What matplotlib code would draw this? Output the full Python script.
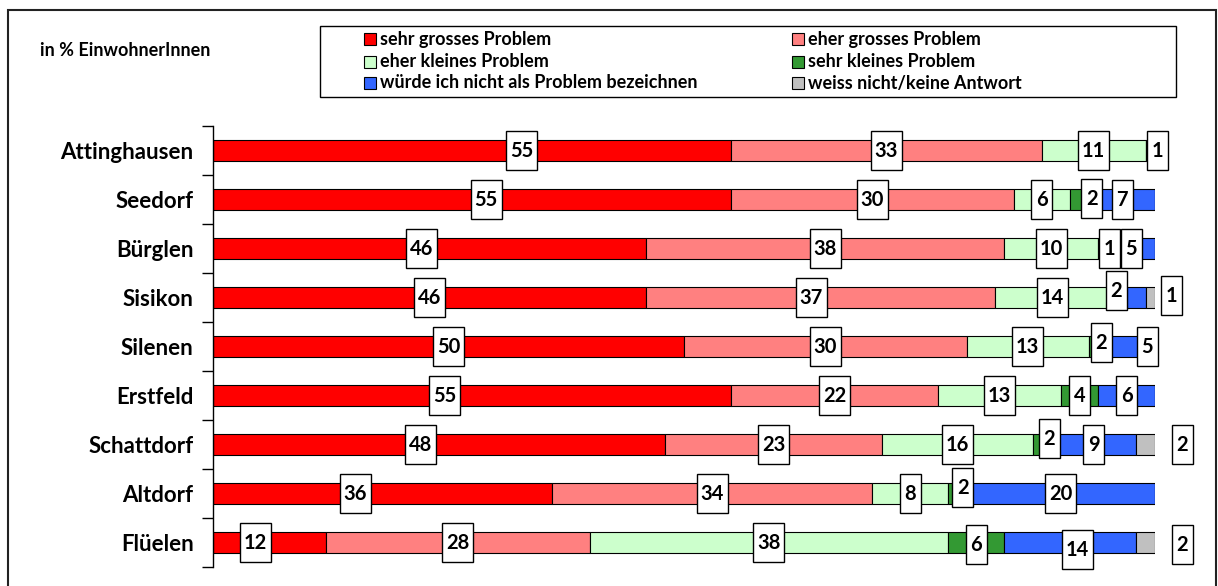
import numpy as np
import matplotlib.pyplot as plt
from matplotlib.patches import Rectangle

plt.rcParams['font.family'] = ['Lato', 'DejaVu Sans']

# Daten (in % EinwohnerInnen)
gemeinden = ["Attinghausen", "Seedorf", "Bürglen", "Sisikon", "Silenen",
             "Erstfeld", "Schattdorf", "Altdorf", "Flüelen"]
kategorien = ["sehr grosses Problem", "eher grosses Problem",
              "eher kleines Problem", "sehr kleines Problem",
              "würde ich nicht als Problem bezeichnen", "weiss nicht/keine Antwort"]

sehr_gross = [55, 55, 46, 46, 50, 55, 48, 36, 12]
eher_gross = [33, 30, 38, 37, 30, 22, 23, 34, 28]
eher_klein = [11, 6, 10, 14, 13, 13, 16, 8, 38]
sehr_klein = [0, 2, 1, 0, 2, 4, 2, 2, 6]
kein_problem = [1, 7, 5, 2, 5, 6, 9, 20, 14]
weiss_nicht = [0, 0, 0, 1, 0, 0, 2, 0, 2]

farben = ["#FF0000", "#FF8080", "#CCFFCC", "#339933", "#3366FF", "#C0C0C0"]

# manuelle Verschiebung der Beschriftungen: (zeile, serie) -> (dx in %, dy in px)
nudge = {
    (0, 0): (5.3, 0), (0, 4): (0.8, 0),
    (1, 0): (1.5, 0), (1, 3): (1.3, -1),
    (2, 0): (-0.9, 0), (2, 3): (0.7, 0),
    (3, 1): (-1.0, 0), (3, 2): (-0.9, 0), (3, 4): (-2.1, -7), (3, 5): (2.2, -2.5),
    (4, 3): (0.3, -4), (4, 4): (1.7, 0),
    (5, 0): (-2.9, 0),
    (6, 0): (-2.0, 0), (6, 3): (0.8, -6), (6, 5): (3.9, 0),
    (7, 0): (-2.9, 0), (7, 3): (0.6, -6),
    (8, 0): (-1.5, 0), (8, 3): (0.0, 1.5), (8, 4): (0.8, 6.7), (8, 5): (3.9, 2),
}

W, H = 1218, 586
fig = plt.figure(figsize=(W / 100, H / 100), dpi=100)

def fx(px):
    return px / W

def fy(py):
    return 1 - py / H

ax = fig.add_axes([fx(213), fy(567), 942 / W, 441 / H])

serien = [sehr_gross, eher_gross, eher_klein, sehr_klein, kein_problem, weiss_nicht]
y = np.arange(len(gemeinden))
left = np.zeros(len(gemeinden))
px_x = 942 / 100   # px pro %
px_y = 441 / 9     # px pro zeile

for j, (werte, farbe) in enumerate(zip(serien, farben)):
    werte = np.array(werte, dtype=float)
    ax.barh(y, werte, left=left, height=0.41, color=farbe,
            edgecolor="black", linewidth=0.8, zorder=2)
    for i, v in enumerate(werte):
        if v <= 0:
            continue
        dx, dy = nudge.get((i, j), (0, 0))
        xc = left[i] + v / 2 + dx
        yc = y[i] + dy / px_y
        txt = f"{int(v)}"
        bw = (21 if len(txt) == 1 else 31) / px_x
        bh = 39 / px_y
        ax.add_patch(Rectangle((xc - bw / 2, yc - bh / 2), bw, bh,
                               facecolor="white", edgecolor="black",
                               linewidth=1, zorder=3, clip_on=False))
        ax.text(xc, yc + 0.02, txt, ha="center", va="center", fontsize=14.5,
                fontweight="bold", zorder=4, clip_on=False)
    left += werte

ax.set_xlim(0, 100)
ax.set_ylim(len(gemeinden) - 0.5, -0.5)
ax.xaxis.set_visible(False)
for s in ["top", "right", "bottom"]:
    ax.spines[s].set_visible(False)
ax.spines["left"].set_linewidth(1)

ax.set_yticks(y)
ax.set_yticklabels(gemeinden, fontsize=16, fontweight="bold")
ax.tick_params(axis="y", which="major", length=0, pad=14)
ax.set_yticks(np.arange(-0.5, len(gemeinden), 1), minor=True)
ax.tick_params(axis="y", which="minor", length=8, width=1, direction="out")

# Rahmen aussen
fig.add_artist(Rectangle((fx(8), fy(600)), fx(1216) - fx(8), 590 / H,
                         transform=fig.transFigure, fill=False,
                         edgecolor="#222222", linewidth=1.5))

fig.text(fx(40), fy(50), "in % EinwohnerInnen", ha="left", va="center",
         fontsize=13, fontweight="bold")

# Legende
fig.add_artist(Rectangle((fx(320), fy(97)), fx(1176) - fx(320), 71 / H,
                         transform=fig.transFigure, fill=False,
                         edgecolor="black", linewidth=1))
col_x = [364, 792]
row_y = [39, 61.5, 83]
for k, (name, farbe) in enumerate(zip(kategorien, farben)):
    r, c = k // 2, k % 2
    mx, my = col_x[c], row_y[r]
    fig.add_artist(Rectangle((fx(mx), fy(my + 6)), 12 / W, 12 / H,
                             transform=fig.transFigure, facecolor=farbe,
                             edgecolor="black", linewidth=0.8))
    fig.text(fx(mx + 16), fy(my), name, ha="left", va="center",
             fontsize=13, fontweight="bold")

fig.savefig("out.png", dpi=100)
